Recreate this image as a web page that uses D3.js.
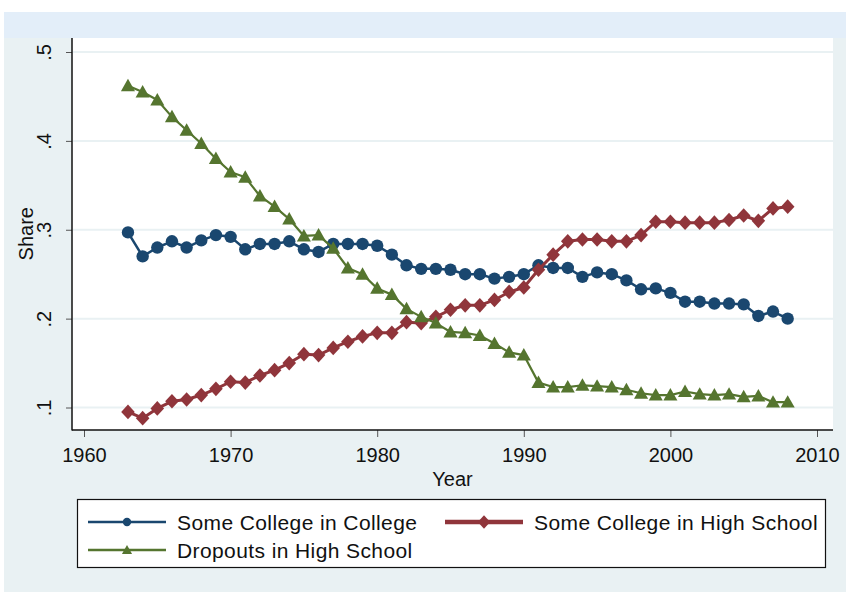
<!DOCTYPE html>
<html>
<head>
<meta charset="utf-8">
<style>
    body { margin: 0; background: #ffffff; }
    svg { display: block; font-family: "Liberation Sans", Arial, sans-serif; }
    .tick line { stroke: #555555; }
    .tick text { font-size: 20px; fill: #111111; }
    .legend text { font-size: 21px; fill: #111111; letter-spacing: 0.4px; }
</style>
</head>
<body>
<svg width="846" height="592"></svg>

<script src="https://d3js.org/d3.v7.min.js"></script>
<script>
    // years on the x axis
    const years = [1963, 1964, 1965, 1966, 1967, 1968, 1969, 1970, 1971, 1972,
        1973, 1974, 1975, 1976, 1977, 1978, 1979, 1980, 1981, 1982,
        1983, 1984, 1985, 1986, 1987, 1988, 1989, 1990, 1991, 1992,
        1993, 1994, 1995, 1996, 1997, 1998, 1999, 2000, 2001, 2002,
        2003, 2004, 2005, 2006, 2007, 2008];

    const someCollegeInCollege = [0.297, 0.270, 0.280, 0.287, 0.280, 0.288, 0.294, 0.292, 0.278, 0.284,
        0.284, 0.287, 0.278, 0.275, 0.284, 0.284, 0.284, 0.282, 0.272, 0.260,
        0.256, 0.256, 0.255, 0.250, 0.250, 0.245, 0.247, 0.250, 0.260, 0.257,
        0.257, 0.247, 0.252, 0.250, 0.243, 0.233, 0.234, 0.229, 0.219, 0.219,
        0.217, 0.217, 0.216, 0.203, 0.208, 0.200];

    const someCollegeInHighSchool = [0.095, 0.088, 0.099, 0.107, 0.109, 0.114, 0.121, 0.129, 0.128, 0.136,
        0.142, 0.150, 0.160, 0.159, 0.167, 0.174, 0.180, 0.184, 0.184, 0.196,
        0.195, 0.202, 0.210, 0.215, 0.215, 0.221, 0.230, 0.235, 0.255, 0.272,
        0.287, 0.289, 0.289, 0.287, 0.287, 0.294, 0.309, 0.309, 0.308, 0.308,
        0.308, 0.311, 0.316, 0.310, 0.324, 0.326];

    const dropoutsInHighSchool = [0.462, 0.455, 0.446, 0.427, 0.412, 0.397, 0.380, 0.365, 0.359, 0.338,
        0.326, 0.312, 0.293, 0.294, 0.279, 0.257, 0.250, 0.234, 0.227, 0.211,
        0.202, 0.195, 0.185, 0.184, 0.181, 0.172, 0.162, 0.159, 0.128, 0.123,
        0.123, 0.125, 0.124, 0.123, 0.120, 0.116, 0.114, 0.114, 0.118, 0.115,
        0.114, 0.115, 0.112, 0.113, 0.106, 0.106];

    const xTicks = [1960, 1970, 1980, 1990, 2000, 2010];
    const yTicks = [0.1, 0.2, 0.3, 0.4, 0.5];
    const yTickLabels = [".1", ".2", ".3", ".4", ".5"];

    const seriesNames = ["Some College in College", "Some College in High School", "Dropouts in High School"];

    // stata s2color palette
    const navy = "#1a476f";
    const maroon = "#90353b";
    const forest = "#55752f";

    // custom marker shapes, size = half height
    const diamond = {
        draw(ctx, r) {
            ctx.moveTo(0, -r * 1.08);
            ctx.lineTo(r, 0);
            ctx.lineTo(0, r * 1.08);
            ctx.lineTo(-r, 0);
            ctx.closePath();
        }
    };
    const triangle = {
        draw(ctx, r) {
            ctx.moveTo(0, -r * 1.1);
            ctx.lineTo(r * 1.1, r * 0.85);
            ctx.lineTo(-r * 1.1, r * 0.85);
            ctx.closePath();
        }
    };
    const circle = {
        draw(ctx, r) {
            ctx.moveTo(r, 0);
            ctx.arc(0, 0, r, 0, 2 * Math.PI);
        }
    };

    const series = [
        { name: seriesNames[0], values: someCollegeInCollege, color: navy, width: 2.5, shape: circle, r: 6.2, lr: 4.2, lw: 2.5 },
        { name: seriesNames[1], values: someCollegeInHighSchool, color: maroon, width: 3, shape: diamond, r: 6.8, lr: 6.2, lw: 4.5 },
        { name: seriesNames[2], values: dropoutsInHighSchool, color: forest, width: 2.2, shape: triangle, r: 6.4, lr: 4.6, lw: 2.5 }
    ];

    const svg = d3.select("svg");

    // backgrounds
    svg.append("rect").attr("x", 4).attr("y", 12).attr("width", 842).attr("height", 580).attr("fill", "#e9f1f3");
    svg.append("rect").attr("x", 4).attr("y", 12).attr("width", 842).attr("height", 26).attr("fill", "#e3eef9");

    const plot = { left: 72, right: 833, top: 38, bottom: 430 };
    svg.append("rect")
        .attr("x", plot.left).attr("y", plot.top)
        .attr("width", plot.right - plot.left).attr("height", plot.bottom - plot.top)
        .attr("fill", "#ffffff");

    const x = d3.scaleLinear().domain([1960, 2010]).range([84, 817]);
    const y = d3.scaleLinear().domain([0.1, 0.5]).range([407.5, 52]);

    // grid lines
    svg.append("g")
        .selectAll("line")
        .data(yTicks)
        .join("line")
        .attr("x1", plot.left + 1).attr("x2", plot.right)
        .attr("y1", d => y(d)).attr("y2", d => y(d))
        .attr("stroke", "#e9f1f3")
        .attr("stroke-width", 2);

    // y axis
    const yAxis = svg.append("g")
        .attr("transform", `translate(${plot.left},0)`)
        .call(d3.axisLeft(y).tickValues(yTicks).tickSize(6)
            .tickFormat((d, i) => yTickLabels[i]));
    yAxis.select(".domain").remove();
    yAxis.selectAll(".tick text")
        .attr("x", 0).attr("dy", 0)
        .attr("text-anchor", "middle")
        .attr("transform", "translate(-21,0) rotate(-90)");

    // x axis
    const xAxis = svg.append("g")
        .attr("transform", `translate(0,${plot.bottom})`)
        .call(d3.axisBottom(x).tickValues(xTicks).tickSize(7).tickFormat(d3.format("d")));
    xAxis.select(".domain").remove();
    xAxis.selectAll(".tick text").attr("y", 32).attr("dy", 0);

    // axis lines
    svg.append("line")
        .attr("x1", plot.left).attr("x2", plot.left)
        .attr("y1", plot.top).attr("y2", plot.bottom + 0.5)
        .attr("stroke", "#111").attr("stroke-width", 1.5);
    svg.append("line")
        .attr("x1", plot.left).attr("x2", plot.right)
        .attr("y1", plot.bottom).attr("y2", plot.bottom)
        .attr("stroke", "#111").attr("stroke-width", 1.5);

    // axis titles
    svg.append("text")
        .attr("transform", `translate(33,${(y(0.1) + y(0.5)) / 2 + 4}) rotate(-90)`)
        .attr("text-anchor", "middle")
        .attr("font-size", 20).attr("fill", "#111")
        .text("Share");
    svg.append("text")
        .attr("x", (plot.left + plot.right) / 2)
        .attr("y", 486)
        .attr("text-anchor", "middle")
        .attr("font-size", 20).attr("fill", "#111")
        .text("Year");

    // lines and markers
    const line = d3.line().x((d, i) => x(years[i])).y(d => y(d));

    series.forEach(s => {
        const g = svg.append("g");
        g.append("path")
            .datum(s.values)
            .attr("d", line)
            .attr("fill", "none")
            .attr("stroke", s.color)
            .attr("stroke-width", s.width)
            .attr("stroke-linejoin", "round");
        g.selectAll("path.mark")
            .data(s.values)
            .join("path")
            .attr("class", "mark")
            .attr("d", d3.symbol().type(s.shape).size(s.r))
            .attr("transform", (d, i) => `translate(${x(years[i])},${y(d)})`)
            .attr("fill", s.color);
    });

    // legend
    const legend = svg.append("g").attr("class", "legend");
    legend.append("rect")
        .attr("x", 77.5).attr("y", 499.5)
        .attr("width", 748).attr("height", 68)
        .attr("fill", "#ffffff")
        .attr("stroke", "#111").attr("stroke-width", 1.2);

    const legendPos = [
        { x: 88, y: 522 },
        { x: 445, y: 522 },
        { x: 88, y: 550 }
    ];

    const items = legend.selectAll("g.item")
        .data(series)
        .join("g")
        .attr("class", "item")
        .attr("transform", (d, i) => `translate(${legendPos[i].x},${legendPos[i].y})`);
    items.append("line")
        .attr("x1", 0).attr("x2", 78)
        .attr("stroke", d => d.color)
        .attr("stroke-width", d => d.lw);
    items.append("path")
        .attr("d", d => d3.symbol().type(d.shape).size(d.lr)())
        .attr("transform", "translate(39,0)")
        .attr("fill", d => d.color);
    items.append("text")
        .attr("x", 89)
        .attr("y", 7.5)
        .text(d => d.name);
</script>
</body>
</html>
